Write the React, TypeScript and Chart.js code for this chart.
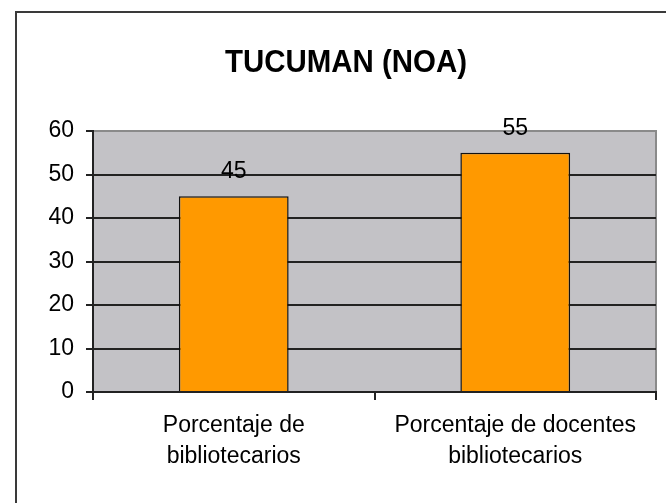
import React, { useEffect, useRef } from "react";
import { Chart, registerables } from "chart.js";

Chart.register(...registerables);

const chartTitle = "TUCUMAN (NOA)";
const categories: string[][] = [
  ["Porcentaje de", "bibliotecarios"],
  ["Porcentaje de docentes", "bibliotecarios"],
];
const values: number[] = [45, 55];
const yMin = 0;
const yMax = 60;
const yStep = 10;

const FONT = "'Liberation Sans', Arial, Helvetica, sans-serif";

const framePlugin = {
  id: "frame",
  beforeDraw(chart: any) {
    const { ctx, chartArea, width, height } = chart;
    ctx.save();
    ctx.fillStyle = "#ffffff";
    ctx.fillRect(0, 0, width, height);
    // outer frame
    ctx.strokeStyle = "#3a3a3a";
    ctx.lineWidth = 2;
    ctx.beginPath();
    ctx.moveTo(16, height + 2);
    ctx.lineTo(16, 12);
    ctx.lineTo(width + 2, 12);
    ctx.stroke();
    // plot area
    ctx.fillStyle = "#c3c2c6";
    ctx.fillRect(chartArea.left, chartArea.top, chartArea.right - chartArea.left, chartArea.bottom - chartArea.top);
    ctx.strokeStyle = "#8a8a8a";
    ctx.lineWidth = 2;
    ctx.beginPath();
    ctx.moveTo(chartArea.left, chartArea.top);
    ctx.lineTo(chartArea.right, chartArea.top);
    ctx.lineTo(chartArea.right, chartArea.bottom);
    ctx.stroke();
    ctx.restore();
  },
  afterDraw(chart: any) {
    const { ctx } = chart;
    ctx.save();
    ctx.font = `bold 32px ${FONT}`;
    ctx.fillStyle = "#000";
    ctx.textAlign = "center";
    ctx.textBaseline = "alphabetic";
    ctx.translate(346, 72);
    ctx.scale(0.92, 1);
    ctx.fillText(chartTitle, 0, 0);
    ctx.restore();
  },
};

const valueLabelPlugin = {
  id: "valueLabels",
  afterDatasetsDraw(chart: any) {
    const { ctx } = chart;
    const meta = chart.getDatasetMeta(0);
    ctx.save();
    ctx.font = `23px ${FONT}`;
    ctx.fillStyle = "#000";
    ctx.textAlign = "center";
    ctx.textBaseline = "alphabetic";
    meta.data.forEach((bar: any, i: number) => {
      ctx.fillText(String(values[i]), bar.x, bar.y - 18);
    });
    ctx.restore();
  },
};

export default function App() {
  const ref = useRef<HTMLCanvasElement>(null);
  useEffect(() => {
    if (!ref.current) return;
    const chart = new Chart(ref.current, {
      type: "bar",
      data: {
        labels: categories,
        datasets: [
          {
            data: values,
            backgroundColor: "#ff9900",
            borderColor: "#111",
            borderWidth: 1.5,
            barPercentage: 0.39,
            categoryPercentage: 1,
          },
        ],
      },
      options: {
        animation: false,
        responsive: false,
        maintainAspectRatio: false,
        layout: { padding: { left: 0, right: 10, top: 131, bottom: 0 } },
        plugins: {
          legend: { display: false },
          tooltip: { enabled: false },
          title: { display: false },
        },
        scales: {
          x: {
            offset: true,
            afterFit: (s: any) => {
              s.height = 111;
            },
            grid: {
              display: true,
              offset: true,
              drawOnChartArea: false,
              drawTicks: true,
              tickLength: 8,
              tickColor: "#222",
              lineWidth: 2,
            },
            border: { display: true, color: "#222", width: 2 },
            ticks: {
              color: "#000",
              font: { family: FONT, size: 23, lineHeight: 1.35 },
              padding: 10,
              maxRotation: 0,
              autoSkip: false,
            },
          },
          y: {
            min: yMin,
            max: yMax,
            afterFit: (s: any) => {
              s.width = 93;
            },
            grid: {
              display: true,
              color: (c: any) => (c.tick && c.tick.value === yMax ? "#8a8a8a" : "#222"),
              tickColor: "#222",
              lineWidth: 2,
              drawTicks: true,
              tickLength: 7,
            },
            border: { display: true, color: "#222", width: 2 },
            ticks: {
              stepSize: yStep,
              color: "#000",
              font: { family: FONT, size: 23 },
              padding: 12,
            },
          },
        },
      },
      plugins: [framePlugin, valueLabelPlugin],
    });
    return () => chart.destroy();
  }, []);
  return (
    <div style={{ position: "absolute", left: 0, top: 0, width: 666, height: 503 }}>
      <canvas ref={ref} width={666} height={503} style={{ display: "block", width: 666, height: 503 }} />
    </div>
  );
}
